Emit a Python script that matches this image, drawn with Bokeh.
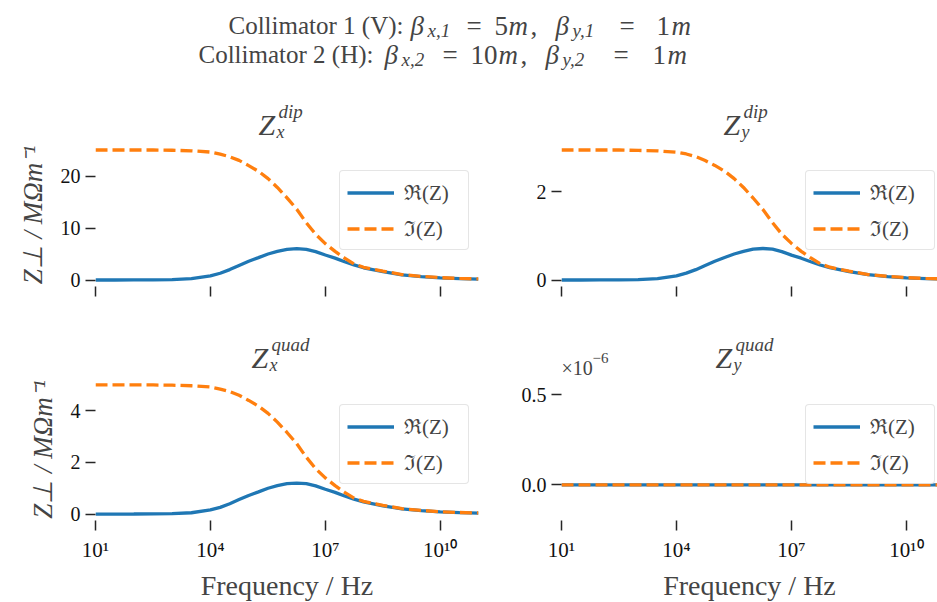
from bokeh.plotting import figure
from bokeh.models import (Range1d, FixedTicker, CustomJSTickFormatter, Legend,
                          LegendItem, Label)
from bokeh.layouts import column, row
from bokeh.embed import file_html
from bokeh.resources import INLINE

# ---------------- data ----------------
freq = [1e1, 3.2e1, 1e2, 3.2e2, 1e3, 3.2e3, 1e4, 1.8e4, 3.2e4, 5.6e4,
        1e5, 1.8e5, 3.2e5, 5.6e5, 1e6, 1.8e6, 3.2e6, 5.6e6, 1e7, 1.8e7,
        3.2e7, 5.6e7, 1e8, 3.2e8, 1e9, 3.2e9, 1e10, 3.2e10, 1e11]

re_x_dip = [0, 0, 0.01, 0.03, 0.08, 0.25, 0.8, 1.3, 2.0, 2.8,
            3.6, 4.3, 5.0, 5.5, 5.9, 6.05, 5.9, 5.45, 4.8, 4.2,
            3.5, 2.9, 2.35, 1.6, 1.0, 0.65, 0.42, 0.28, 0.18]
im_x_dip = [25, 25, 25, 25, 24.95, 24.85, 24.6, 24.2, 23.7, 23.0,
            22.0, 20.9, 19.5, 17.8, 15.8, 13.6, 11.0, 8.8, 7.0, 5.5,
            4.2, 3.1, 2.45, 1.7, 1.05, 0.7, 0.45, 0.3, 0.2]

re_y_dip = [0, 0, 0.001, 0.004, 0.01, 0.03, 0.095, 0.155, 0.235, 0.33,
            0.425, 0.51, 0.59, 0.65, 0.70, 0.715, 0.70, 0.645, 0.565, 0.495,
            0.415, 0.34, 0.28, 0.19, 0.12, 0.077, 0.05, 0.033, 0.021]
im_y_dip = [2.95, 2.95, 2.95, 2.95, 2.94, 2.93, 2.90, 2.86, 2.80, 2.71,
            2.60, 2.47, 2.30, 2.10, 1.86, 1.60, 1.30, 1.04, 0.83, 0.65,
            0.50, 0.37, 0.29, 0.20, 0.124, 0.083, 0.053, 0.035, 0.024]

re_x_quad = [0, 0, 0.002, 0.006, 0.016, 0.05, 0.16, 0.26, 0.4, 0.56,
             0.72, 0.86, 1.0, 1.1, 1.18, 1.2, 1.18, 1.09, 0.96, 0.84,
             0.7, 0.58, 0.47, 0.32, 0.2, 0.13, 0.084, 0.056, 0.036]
im_x_quad = [5, 5, 5, 5, 4.99, 4.97, 4.92, 4.84, 4.74, 4.6,
             4.4, 4.18, 3.9, 3.56, 3.16, 2.72, 2.2, 1.76, 1.4, 1.1,
             0.84, 0.62, 0.49, 0.34, 0.21, 0.14, 0.09, 0.06, 0.04]

re_y_quad = [0] * 29
im_y_quad = [0] * 29

x_ticks = [1e1, 1e4, 1e7, 1e10]
yticks_x_dip = [0, 10, 20]
yticks_y_dip = [0, 2]
yticks_x_quad = [0, 2, 4]
yticks_y_quad = [0, 0.5e-6]

legend_labels = ["ℜ(Z)", "ℑ(Z)"]
panel_sub = ["x", "y", "x", "y"]
panel_sup = ["dip", "dip", "quad", "quad"]

# ---------------- styling ----------------
BLUE = "#1f77b4"
ORANGE = "#ff7f0e"
SERIF = "Liberation Serif"
TICKC = "#262626"

sup_js = """
const sup = {"0":"⁰","1":"¹","2":"²","3":"³","4":"⁴","5":"⁵","6":"⁶","7":"⁷","8":"⁸","9":"⁹","-":"⁻"};
const e = Math.round(Math.log10(tick));
return "10" + String(e).split("").map(c => sup[c]).join("");
"""


def panel(re, im, yticks, yr, xend, left_col, bottom_row, ylab_fmt=None):
    fw = 383 if left_col else 376
    p = figure(width=10, height=10, frame_width=fw,
               frame_height=142 if bottom_row else 143,
               x_axis_type="log", x_range=Range1d(10, xend), y_range=Range1d(*yr),
               output_backend="svg", toolbar_location=None, title=None,
               min_border_left=95 if left_col else 61,
               min_border_right=22 if left_col else 0,
               min_border_top=0,
               min_border_bottom=80 if bottom_row else 14)
    p.outline_line_color = None
    p.xgrid.visible = False
    p.ygrid.visible = False
    for ax in (p.xaxis[0], p.yaxis[0]):
        ax.axis_line_color = None
        ax.major_tick_out = 10
        ax.major_tick_in = 0
        ax.minor_tick_out = 0
        ax.minor_tick_in = 0
        ax.minor_tick_line_color = None
        ax.major_tick_line_color = TICKC
        ax.major_tick_line_width = 1.5
        ax.major_label_text_font = SERIF
        ax.major_label_text_color = "#111111"
    p.xaxis.ticker = FixedTicker(ticks=x_ticks)
    if bottom_row:
        p.xaxis.formatter = CustomJSTickFormatter(code=sup_js)
        p.xaxis.axis_label = "Frequency / Hz"
        p.xaxis.axis_label_text_font = SERIF
        p.xaxis.axis_label_text_font_style = "normal"
        p.xaxis.axis_label_text_font_size = "28px"
        p.xaxis.axis_label_standoff = 5
    else:
        p.xaxis.formatter = CustomJSTickFormatter(code='return "";')
    p.xaxis.major_label_text_font_size = "21px"
    p.xaxis.major_label_standoff = 7

    p.yaxis.ticker = FixedTicker(ticks=yticks)
    if ylab_fmt is not None:
        p.yaxis.formatter = CustomJSTickFormatter(code=ylab_fmt)
    p.yaxis.major_label_text_font_size = "20px"
    p.yaxis.major_label_standoff = 5
    if left_col:
        p.yaxis.axis_label = "Z⊥ / MΩm⁻¹"
        p.yaxis.axis_label_text_font = SERIF
        p.yaxis.axis_label_text_font_style = "italic"
        p.yaxis.axis_label_text_font_size = "27px"
        p.yaxis.axis_label_standoff = 10

    r1 = p.line(freq, re, color=BLUE, line_width=3.3)
    r2 = p.line(freq, im, color=ORANGE, line_width=3.3, line_dash="12 5")

    leg = Legend(items=[LegendItem(label=legend_labels[0], renderers=[r1]),
                        LegendItem(label=legend_labels[1], renderers=[r2])],
                 location=(244, 36))
    leg.label_text_font = SERIF
    leg.label_text_font_size = "21px"
    leg.glyph_width = 47
    leg.glyph_height = 25
    leg.label_height = 25
    leg.label_width = 57
    leg.label_standoff = 10
    leg.spacing = 8
    leg.padding = 7
    leg.margin = 0
    leg.border_line_color = "#cccccc"
    leg.border_line_width = 1.5
    leg.background_fill_alpha = 0.85
    try:
        leg.border_radius = 4
    except Exception:
        pass
    p.add_layout(leg)
    return p


p1 = panel(re_x_dip, im_x_dip, yticks_x_dip, (-1.25, 26.25), 1e11, True, False)
p2 = panel(re_y_dip, im_y_dip, yticks_y_dip, (-0.1475, 3.0975), 10 ** 10.81, False, False)
p3 = panel(re_x_quad, im_x_quad, yticks_x_quad, (-0.25, 5.25), 1e11, True, True)
p4 = panel(re_y_quad, im_y_quad, yticks_y_quad, (-0.198e-6, 0.59e-6), 10 ** 10.81, False, True,
           ylab_fmt="return (tick*1e6).toFixed(1);")


def text_strip(h):
    f = figure(width=937, height=h, x_range=Range1d(0, 937), y_range=Range1d(h, 0),
               output_backend="svg", toolbar_location=None, title=None,
               min_border_left=0, min_border_right=0, min_border_top=0, min_border_bottom=0)
    f.axis.visible = False
    f.grid.visible = False
    f.outline_line_color = None
    return f


def add_text(f, x, y, txt, size, style="normal", align="left"):
    f.add_layout(Label(x=x, y=y, text=txt, text_font=SERIF, text_font_style=style,
                       text_font_size=f"{size}px", text_baseline="alphabetic",
                       text_align=align))


def add_title(f, zx, base, sub, sup):
    add_text(f, zx, base, "Z", 30, "italic")
    add_text(f, zx + 20, base - 13, sup, 19, "italic")
    add_text(f, zx + 18, base + 7, sub, 18, "italic")


# ---------------- header (suptitle + top-row panel titles) ----------------
hdr = text_strip(143)
MS = 27   # math glyph size
SS = 19   # subscript size
# (text, left x, style, is_subscript)
line1 = [("Collimator 1 (V):", 228, "normal", 0),
         ("β", 410, "italic", 0), ("x,1", 427, "italic", 1),
         ("=", 466, "normal", 0), ("5", 494, "normal", 0), ("m", 508, "italic", 0),
         (",", 530, "normal", 0),
         ("β", 555, "italic", 0), ("y,1", 572, "italic", 1),
         ("=", 619, "normal", 0), ("1", 656, "normal", 0), ("m", 671, "italic", 0)]
line2 = [("Collimator 2 (H):", 198, "normal", 0),
         ("β", 384, "italic", 0), ("x,2", 401, "italic", 1),
         ("=", 442, "normal", 0), ("10", 470, "normal", 0), ("m", 498, "italic", 0),
         (",", 520, "normal", 0),
         ("β", 545, "italic", 0), ("y,2", 562, "italic", 1),
         ("=", 613, "normal", 0), ("1", 652, "normal", 0), ("m", 667, "italic", 0)]
for ln, base in ((line1, 25), (line2, 54)):
    for txt, px, style, issub in ln:
        if px in (228, 198):
            add_text(hdr, px, base, txt, 25, style)
        elif issub:
            add_text(hdr, px, base + 5, txt, SS, style)
        else:
            add_text(hdr, px, base, txt, MS, style)

add_title(hdr, 258, 124, panel_sub[0], panel_sup[0])
add_title(hdr, 723, 124, panel_sub[1], panel_sup[1])

# ---------------- strip between rows (bottom-row titles, offset text) ----------------
mid = text_strip(78)   # page y 300 .. 378
add_title(mid, 251, 357 - 300, panel_sub[2], panel_sup[2])
add_title(mid, 715, 357 - 300, panel_sub[3], panel_sup[3])
add_text(mid, 561, 367 - 300, "×10", 20)
add_text(mid, 592, 357 - 300, "−6", 15)

layout = column(hdr, row(p1, p2), mid, row(p3, p4))
with open("out.html", "w", encoding="utf-8") as f:
    f.write(file_html(layout, INLINE))
